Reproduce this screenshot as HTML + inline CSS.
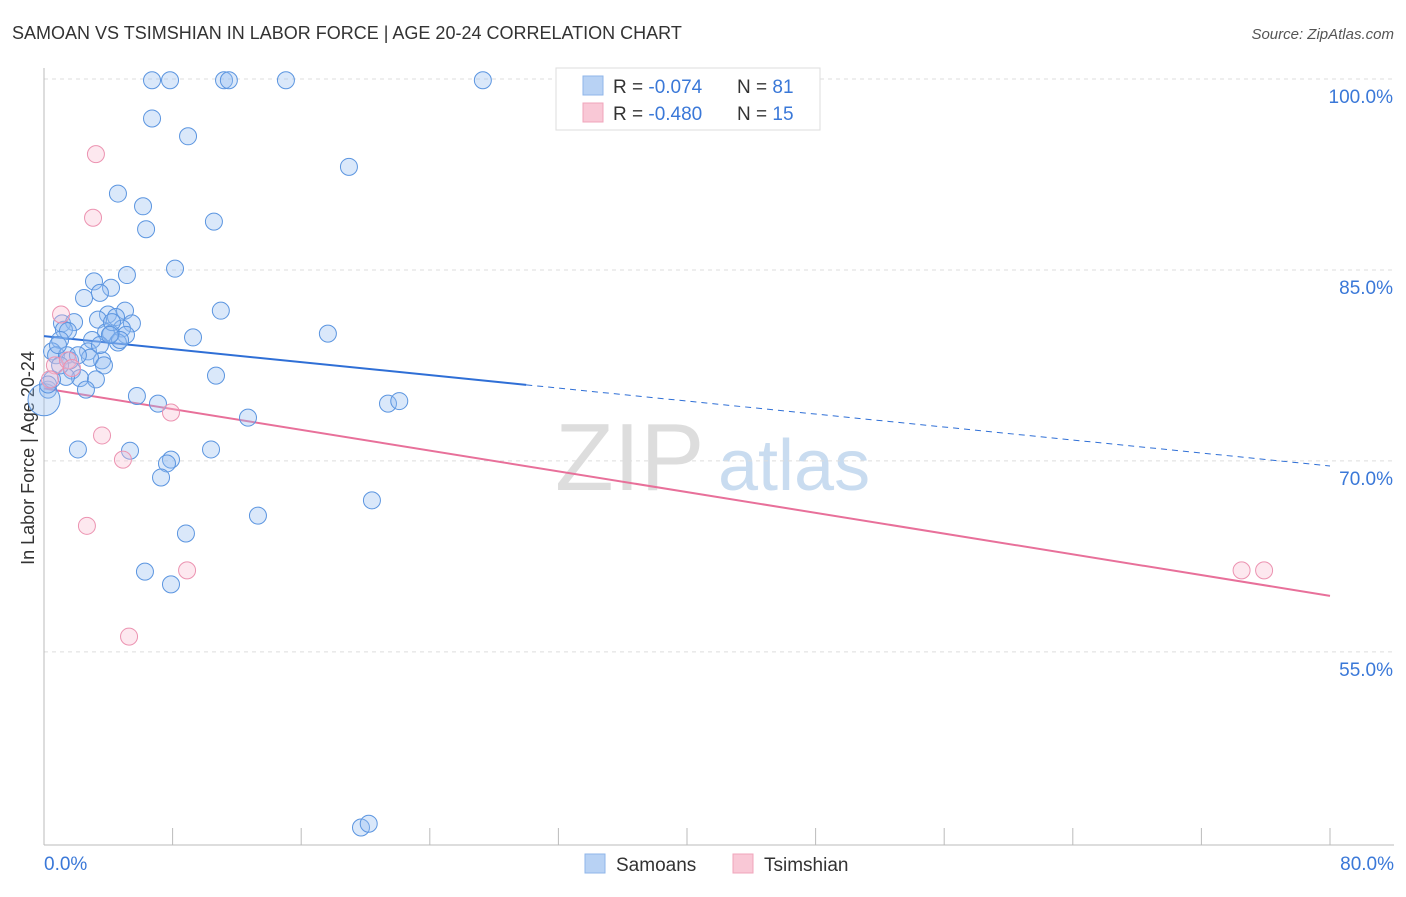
<!DOCTYPE html>
<html><head><meta charset="utf-8"><style>
body{margin:0;background:#fff;font-family:"Liberation Sans",sans-serif;}
svg text{font-family:"Liberation Sans",sans-serif;}
</style></head><body>
<svg id="chart" width="1406" height="892">
<text x="12" y="39" font-size="18" fill="#333">SAMOAN VS TSIMSHIAN IN LABOR FORCE | AGE 20-24 CORRELATION CHART</text>
<text x="1394" y="39" font-size="15" fill="#555" text-anchor="end" font-style="italic">Source: ZipAtlas.com</text>
<text x="34" y="458" font-size="18" fill="#333" text-anchor="middle" transform="rotate(-90 34 458)">In Labor Force | Age 20-24</text>
<g><text x="555" y="490" font-size="96" fill="#ddd" font-family="Liberation Serif">ZIP</text><text x="718" y="490" font-size="72" fill="#c9dcf0">atlas</text></g>
<g id="axes"></g><g id="lines"></g><g id="pts"></g>
<g>
<rect x="556" y="68" width="264" height="62" fill="#fff" stroke="#ddd"/>
<rect x="583" y="76" width="20" height="19" fill="#b8d2f4" stroke="#8fb6ea"/>
<rect x="583" y="103" width="20" height="19" fill="#f9c8d6" stroke="#f0a5bb"/>
<text x="613" y="93" font-size="19" fill="#333">R = <tspan fill="#3a78d8">-0.074</tspan></text>
<text x="737" y="93" font-size="19" fill="#333">N = <tspan fill="#3a78d8">81</tspan></text>
<text x="613" y="120" font-size="19" fill="#333">R = <tspan fill="#3a78d8">-0.480</tspan></text>
<text x="737" y="120" font-size="19" fill="#333">N = <tspan fill="#3a78d8">15</tspan></text>
</g>
<g>
<rect x="585" y="854" width="20" height="19" fill="#b8d2f4" stroke="#8fb6ea"/>
<text x="616" y="871" font-size="19" fill="#333">Samoans</text>
<rect x="733" y="854" width="20" height="19" fill="#f9c8d6" stroke="#f0a5bb"/>
<text x="764" y="871" font-size="19" fill="#333">Tsimshian</text>
</g>
</svg>
<script>
const blueX=[6.72,7.84,11.2,11.5,15.05,27.3,6.72,8.96,18.97,4.6,6.16,6.35,10.57,8.15,5.16,3.11,4.17,2.49,3.48,5.04,11.0,3.98,3.36,4.48,5.47,1.12,1.87,1.24,1.49,3.86,4.85,4.17,5.1,1.0,2.99,4.6,9.27,17.66,0.5,0.75,1.43,2.74,3.61,2.86,3.73,1.74,2.24,3.23,1.37,2.61,0.25,0,5.78,7.09,10.7,21.4,22.1,12.69,2.11,5.35,10.39,7.9,7.65,7.28,20.4,13.31,8.83,6.28,7.9,19.72,20.2,0.5,0.87,1.62,3.48,4.23,4.73,2.11,1.0,0.25,4.1];
const blueY=[99.9,99.9,99.9,99.9,99.9,99.9,96.9,95.5,93.1,91.0,90.0,88.2,88.8,85.1,84.6,84.1,83.6,82.8,83.2,81.8,81.8,81.5,81.1,81.3,80.8,80.8,80.9,80.3,80.2,80.1,80.4,80.0,79.9,79.5,79.5,79.3,79.7,80.0,78.6,78.3,78.3,78.6,77.9,78.1,77.5,77.1,76.5,76.4,76.6,75.6,75.6,74.8,75.1,74.5,76.7,74.5,74.7,73.4,70.9,70.8,70.9,70.1,69.8,68.7,66.9,65.7,64.3,61.3,60.3,41.2,41.5,76.4,79.1,77.9,79.1,80.9,79.5,78.3,77.5,76.0,79.9];
const pinkX=[3.23,3.05,1.06,0.68,1.49,0.37,1.74,7.9,3.61,4.91,2.67,8.9,5.29,74.5,75.9];
const pinkY=[94.1,89.1,81.5,77.5,77.9,76.4,77.3,73.8,72.0,70.1,64.9,61.4,56.2,61.4,61.4];
const blueTrend=[79.8,69.6];
const pinkTrend=[75.7,59.4];
const yTicks=[100,85,70,55];
const yTickLabels=["100.0%","85.0%","70.0%","55.0%"];
const xTicks=[0,8,16,24,32,40,48,56,64,72,80];
const xEndLabels=["0.0%","80.0%"];
const NS="http://www.w3.org/2000/svg";
const sx=v=>44+v/80*1286, sy=v=>79+(100-v)*12.73;
function mk(t,a,p){const e=document.createElementNS(NS,t);for(const k in a)e.setAttribute(k,a[k]);p.appendChild(e);return e;}
const ax=document.getElementById('axes');
yTicks.forEach((t,i)=>{
 const g=mk('line',{x1:44,x2:1394,y1:sy(t),y2:sy(t),stroke:'#ddd','stroke-dasharray':'4,4'},ax);
 
 
 const l=mk('text',{x:1393,y:sy(t)+24,'font-size':19,fill:'#3a78d8','text-anchor':'end'},ax);l.textContent=yTickLabels[i];
 
 
});
const yl=mk('line',{x1:44,x2:44,y1:68,y2:845,stroke:'#bbb'},ax);


const xl=mk('line',{x1:44,x2:1394,y1:845,y2:845,stroke:'#bbb'},ax);


xTicks.forEach(t=>{const e=mk('line',{x1:sx(t),x2:sx(t),y1:828,y2:845,stroke:'#bbb'},ax);
 
 });
[[0,'start',44],[80,'end',1394]].forEach((d,i)=>{const e=mk('text',{x:d[2],y:870,'font-size':19,fill:'#3a78d8','text-anchor':d[1]},ax);e.textContent=xEndLabels[i];
 
 });
const ln=document.getElementById('lines');
const bAt=x=>blueTrend[0]+(blueTrend[1]-blueTrend[0])*x/80, pAt=x=>pinkTrend[0]+(pinkTrend[1]-pinkTrend[0])*x/80;
let e=mk('line',{x1:sx(0),y1:sy(bAt(0)),x2:sx(30),y2:sy(bAt(30)),stroke:'#2f6fd6','stroke-width':2},ln);


e=mk('line',{x1:sx(30),y1:sy(bAt(30)),x2:sx(80),y2:sy(bAt(80)),stroke:'#2f6fd6','stroke-width':1,'stroke-dasharray':'6,5'},ln);


e=mk('line',{x1:sx(0),y1:sy(pAt(0)),x2:sx(80),y2:sy(pAt(80)),stroke:'#e8709a','stroke-width':2},ln);


const pg=document.getElementById('pts');
blueX.forEach((x,i)=>{const c=mk('circle',{cx:sx(x),cy:sy(blueY[i]),r:(x===0?16:8.5),fill:'rgba(150,190,240,0.35)',stroke:'#5b95e0','stroke-width':1},pg);
 
 });
pinkX.forEach((x,i)=>{const c=mk('circle',{cx:sx(x),cy:sy(pinkY[i]),r:8.5,fill:'rgba(248,190,210,0.35)',stroke:'#ec93b1','stroke-width':1},pg);
 
 });
</script>
</body></html>
